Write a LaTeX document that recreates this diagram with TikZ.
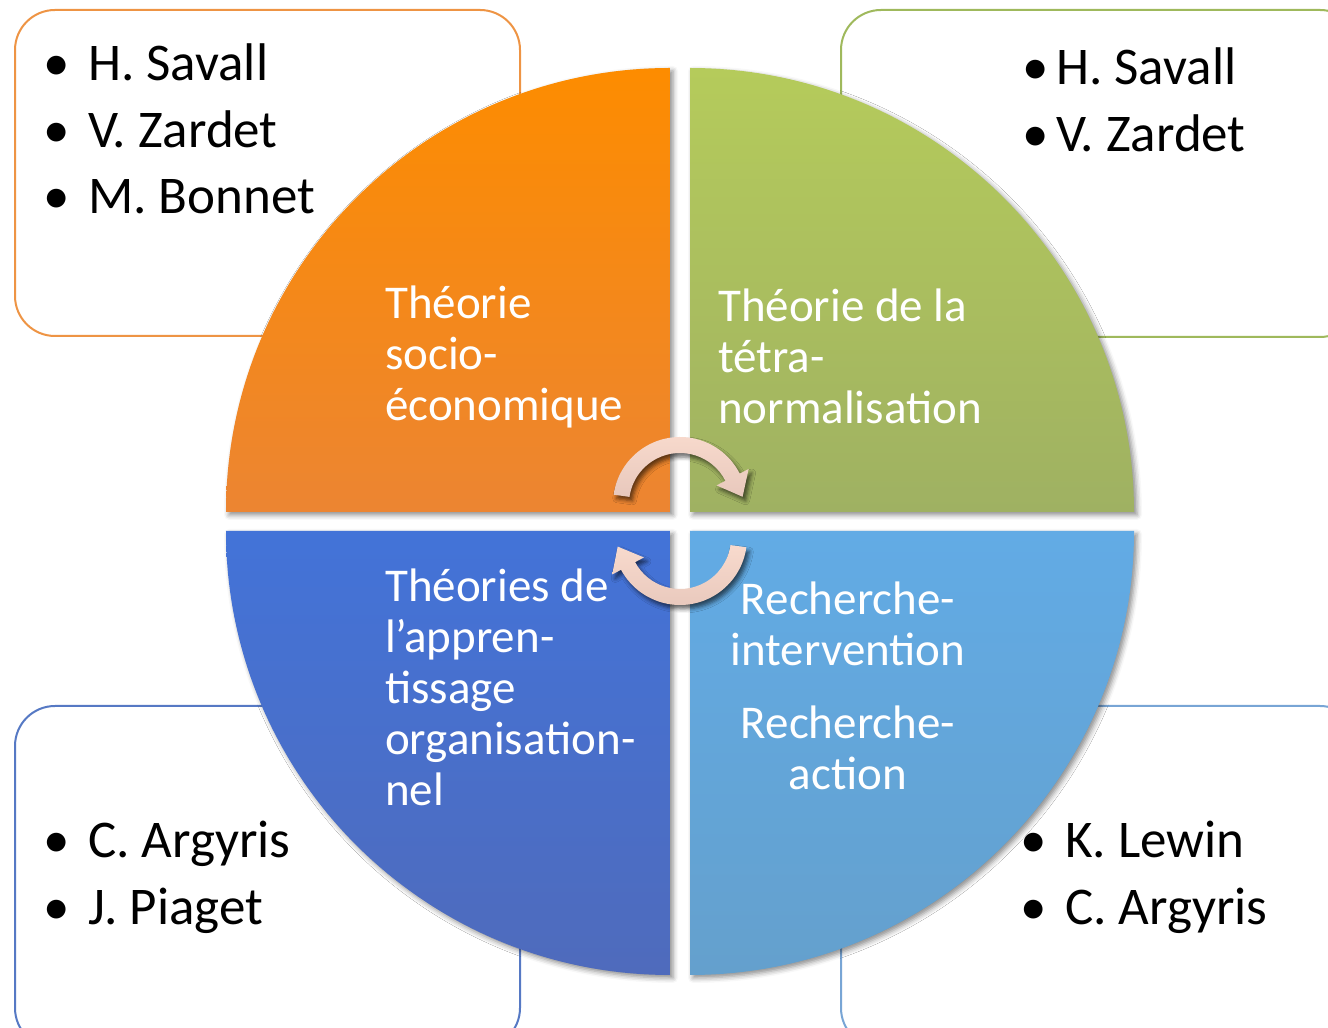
\documentclass[tikz,border=0pt]{standalone}
\usepackage{fontspec}
\setmainfont{Carlito}
\usetikzlibrary{shadows.blur}
\definecolor{oBorder}{HTML}{EE9444}
\definecolor{gBorder}{HTML}{9FB95C}
\definecolor{bBorder}{HTML}{5679C4}
\definecolor{lBorder}{HTML}{78A5D5}
\definecolor{oTop}{HTML}{FD8C00}
\definecolor{oBot}{HTML}{EC8532}
\definecolor{gTop}{HTML}{B5CB5B}
\definecolor{gBot}{HTML}{9FB162}
\definecolor{bTop}{HTML}{4373D8}
\definecolor{bBot}{HTML}{4F6BBC}
\definecolor{lTop}{HTML}{62ABE5}
\definecolor{lBot}{HTML}{64A0CD}
\definecolor{arTop}{HTML}{F8DACD}
\definecolor{arBot}{HTML}{E8C8BC}
\begin{document}
\begin{tikzpicture}[x=1pt,y=1pt,
  listbox/.style={rounded corners=40pt, line width=2pt, fill=white},
  quad/.style={blur shadow={shadow xshift=3pt, shadow yshift=-3pt, shadow opacity=45, shadow blur radius=5pt}},
  qtext/.style={text=white, inner sep=0pt, anchor=base west, font=\fontsize{47}{51}\selectfont},
  ltext/.style={text=black, inner sep=0pt, anchor=base west, font=\fontsize{53}{66.5}\selectfont},
  circarrow/.style={top color=arTop, bottom color=arBot, blur shadow={shadow xshift=3pt, shadow yshift=-4pt, shadow opacity=60, shadow blur radius=4pt}}
]
\useasboundingbox (0,0) rectangle (1328,1028);
\clip (0,0) rectangle (1328,1028);
% list boxes
\draw[listbox, draw=oBorder] (15,692) rectangle (520,1018);
\draw[listbox, draw=gBorder] (841,691) rectangle (1360,1018);
\draw[listbox, draw=bBorder] (15,-20) rectangle (520,322);
\draw[listbox, draw=lBorder] (841,-20) rectangle (1360,322);
% quadrants
\path[quad, top color=oTop, bottom color=oBot] (670,516) -- (226,516) arc[start angle=180, end angle=90, radius=444] -- cycle;
\path[quad, top color=gTop, bottom color=gBot] (690,516) -- (690,960) arc[start angle=90, end angle=0, radius=444] -- cycle;
\path[quad, top color=bTop, bottom color=bBot] (670,497) -- (670,53) arc[start angle=270, end angle=180, radius=444] -- cycle;
\path[quad, top color=lTop, bottom color=lBot] (690,497) -- (1134,497) arc[start angle=0, end angle=-90, radius=444] -- cycle;
% quadrant texts
\node[qtext] (tl) at (385,709) {\vtop{\hbox{Théorie}\hbox{socio-}\hbox{économique}}};
\node[qtext] (tr) at (718,706) {\vtop{\hbox{Théorie de la}\hbox{tétra-}\hbox{normalisation}}};
\node[qtext] (bl) at (385,426) {\vtop{\hbox{Théories de}\hbox{l’appren-}\hbox{tissage}\hbox{organisation-}\hbox{nel}}};
\node[qtext, anchor=base] (br) at (848,413) {\vtop{\halign{\hfil#\hfil\cr Recherche-\cr intervention\cr\noalign{\vskip 22pt} Recherche-\cr action\cr}}};
% lists
\node[ltext] (ltl) at (43,947) {\vtop{\hbox{\makebox[45pt][l]{•}H. Savall}\hbox{\makebox[45pt][l]{•}V. Zardet}\hbox{\makebox[45pt][l]{•}M. Bonnet}}};
\node[ltext] (ltr) at (1022,943) {\vtop{\hbox{\makebox[34pt][l]{•}H. Savall}\hbox{\makebox[34pt][l]{•}V. Zardet}}};
\node[ltext] (lbl) at (43,170) {\vtop{\hbox{\makebox[45pt][l]{•}C. Argyris}\hbox{\makebox[45pt][l]{•}J. Piaget}}};
\node[ltext] (lbr) at (1020,170) {\vtop{\hbox{\makebox[45pt][l]{•}K. Lewin}\hbox{\makebox[45pt][l]{•}C. Argyris}}};
% circular arrows
\path[circarrow, shift={(680,524)}] (172:67) arc[start angle=172, end angle=27, radius=67] -- (27:77) -- (62.6,7.2) -- (27:41) -- (27:51) arc[start angle=27, end angle=172, radius=51] -- cycle;
\path[circarrow, shift={(680,490)}] (-8:67) arc[start angle=-8, end angle=-151.7, radius=67] -- (-151.7:77) -- (-62.3,-8.6) -- (-151.7:41) -- (-151.7:51) arc[start angle=-151.7, end angle=-8, radius=51] -- cycle;
\end{tikzpicture}
\end{document}
